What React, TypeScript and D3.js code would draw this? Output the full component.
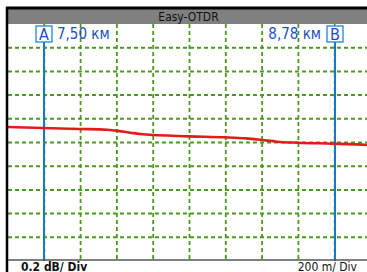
import React, { useEffect, useRef } from 'react';
import * as d3 from 'd3';

// trace distance (km) and level (dB)
const distKm = [7.34, 7.494, 7.657, 7.776, 7.816, 7.878, 7.935, 8.138, 8.292, 8.389, 8.46, 8.526, 8.614, 8.773, 8.922, 8.94];
const levelDb = [1.131, 1.122, 1.114, 1.108, 1.1, 1.083, 1.069, 1.052, 1.044, 1.035, 1.021, 1.007, 0.998, 0.99, 0.979, 0.977];

const cursors = [
    { name: 'A', km: 7.5, label: '7,50 км' },
    { name: 'B', km: 8.78, label: '8,78 км' },
];

const title = 'Easy-OTDR';
const yScaleLabel = '0.2 dB/ Div';
const xScaleLabel = '200 m/ Div';
const xDomain = [7.34, 8.94];
const yDomain = [0, 2];
const divisions = 10;

const FONT = "'Liberation Sans Narrow', 'DejaVu Sans Condensed', 'Liberation Sans', Arial, sans-serif";

const App = () => {
    const svgRef = useRef<SVGSVGElement>(null);

    useEffect(() => {
        const svg = d3.select(svgRef.current);
        const width = 367;
        const height = 272;
        const plot = { left: 8, right: 371, top: 24, bottom: 261 };

        svg.selectAll('*').remove();

        const x = d3.scaleLinear().domain(xDomain).range([plot.left, plot.right]);
        const y = d3.scaleLinear().domain(yDomain).range([plot.bottom, plot.top]);

        svg.append('rect').attr('width', width).attr('height', height).attr('fill', '#fff');

        // grid
        const xStep = (xDomain[1] - xDomain[0]) / divisions;
        const yStep = (yDomain[1] - yDomain[0]) / divisions;
        const grid = svg.append('g');
        grid.selectAll('line.v')
            .data(d3.range(1, divisions))
            .join('line')
            .attr('class', 'v')
            .attr('x1', i => x(xDomain[0] + i * xStep))
            .attr('x2', i => x(xDomain[0] + i * xStep))
            .attr('y1', plot.top)
            .attr('y2', plot.bottom)
            .attr('stroke', '#4a9a1e')
            .attr('stroke-width', 1.8)
            .attr('stroke-dasharray', '4,3');
        grid.selectAll('line.h')
            .data(d3.range(1, divisions))
            .join('line')
            .attr('class', 'h')
            .attr('x1', plot.left)
            .attr('x2', width)
            .attr('y1', i => y(yDomain[0] + i * yStep))
            .attr('y2', i => y(yDomain[0] + i * yStep))
            .attr('stroke', '#4a9a1e')
            .attr('stroke-width', 2)
            .attr('stroke-dasharray', '4,3');

        // cursors
        const cg = svg.append('g');
        cursors.forEach((c, idx) => {
            const cx = Math.round(x(c.km));
            cg.append('line')
                .attr('x1', cx).attr('x2', cx)
                .attr('y1', 42).attr('y2', plot.bottom)
                .attr('stroke', '#1479c8')
                .attr('stroke-width', 2);
            cg.append('rect')
                .attr('x', cx - 8).attr('y', 26)
                .attr('width', 16).attr('height', 16)
                .attr('fill', '#fff')
                .attr('stroke', '#1f86d6')
                .attr('stroke-width', 1.3);
            cg.append('text')
                .attr('x', cx).attr('y', 40)
                .attr('text-anchor', 'middle')
                .attr('font-family', FONT)
                .attr('font-size', 16)
                .attr('fill', '#1c4fc4')
                .text(c.name);
            cg.append('text')
                .attr('x', idx === 0 ? cx + 13 : cx - 14)
                .attr('y', 39)
                .attr('text-anchor', idx === 0 ? 'start' : 'end')
                .attr('font-family', FONT)
                .attr('font-size', 15)
                .attr('fill', '#1c4fc4')
                .text(c.label);
        });

        // trace
        const line = d3.line<number>()
            .x((d, i) => x(distKm[i]))
            .y(d => y(d))
            .curve(d3.curveMonotoneX);
        svg.append('path')
            .datum(levelDb)
            .attr('d', line)
            .attr('fill', 'none')
            .attr('stroke', '#e41b1b')
            .attr('stroke-width', 2.6);

        // title bar & frame
        svg.append('rect')
            .attr('x', plot.left).attr('y', 9)
            .attr('width', width - plot.left).attr('height', 15)
            .attr('fill', '#808080');
        svg.append('line')
            .attr('x1', 6).attr('x2', width)
            .attr('y1', 8).attr('y2', 8)
            .attr('stroke', '#000').attr('stroke-width', 3);
        svg.append('line')
            .attr('x1', 7).attr('x2', 7)
            .attr('y1', 7).attr('y2', height)
            .attr('stroke', '#000').attr('stroke-width', 2.5);
        svg.append('line')
            .attr('x1', plot.left).attr('x2', width)
            .attr('y1', 260).attr('y2', 260)
            .attr('stroke', '#555').attr('stroke-width', 1.5);
        svg.append('text')
            .attr('x', (plot.left + plot.right) / 2 - 1)
            .attr('y', 21)
            .attr('text-anchor', 'middle')
            .attr('font-family', FONT)
            .attr('font-size', 12)
            .attr('fill', '#111')
            .text(title);

        // scale labels
        svg.append('text')
            .attr('x', 21).attr('y', 271)
            .attr('font-family', FONT)
            .attr('font-size', 12)
            .attr('font-weight', 'bold')
            .attr('fill', '#111')
            .text(yScaleLabel);
        svg.append('text')
            .attr('x', 357).attr('y', 271)
            .attr('text-anchor', 'end')
            .attr('font-family', FONT)
            .attr('font-size', 12)
            .attr('fill', '#111')
            .text(xScaleLabel);
    }, []);

    return (
        <svg ref={svgRef} width={367} height={272}
            style={{ position: 'absolute', top: 0, left: 0, display: 'block' }} />
    );
};

export default App;
